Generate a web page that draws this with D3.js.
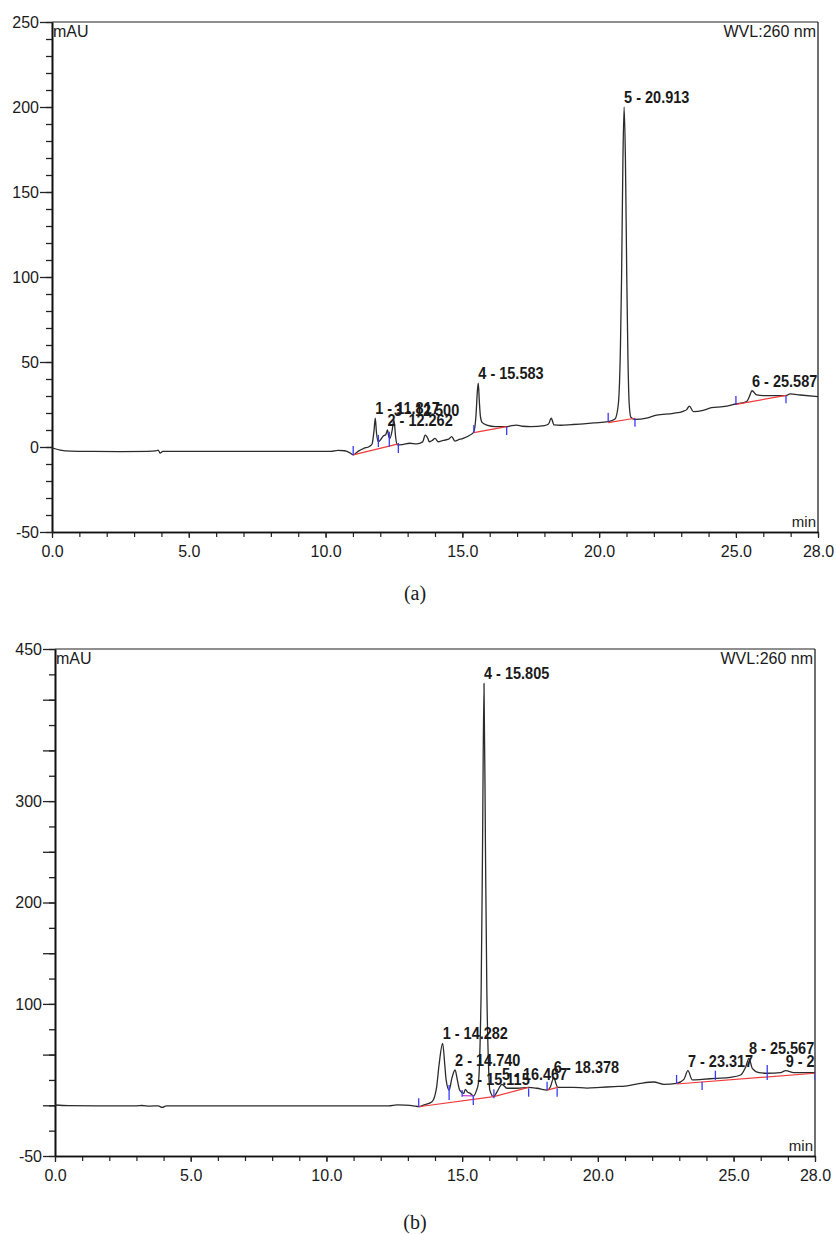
<!DOCTYPE html>
<html>
<head>
<meta charset="utf-8">
<script src="https://cdn.jsdelivr.net/npm/d3@7"></script>
<style>
  html, body { margin: 0; padding: 0; background: #fff; }
  svg { display: block; }
</style>
</head>
<body>
<svg id="fig" width="836" height="1234"></svg>
<script>
// ---------- Run (a): UV trace at 260 nm, retention time (min) vs absorbance (mAU) ----------
const traceA = [
  [0.0,-0.5],[0.3,-1.8],[0.7,-2.4],[1.5,-2.6],[2.5,-2.7],[3.5,-2.6],[3.8,-2.3],[3.88,-1.8],
  [3.95,-3.6],[4.05,-2.6],[5.0,-2.6],[7.0,-2.6],[9.0,-2.6],[10.2,-2.6],[10.45,-2.0],[10.7,-2.2],
  [10.9,-3.5],[11.01,-4.6],[11.2,-2.4],[11.4,-0.8],[11.6,0.3],[11.7,1.8],[11.77,9.5],
  [11.86,8.5],[11.93,3.1],[12.02,4.5],[12.11,6.5],[12.2,7.2],[12.31,6.0],[12.35,5.1],[12.43,9.5],
  [12.56,6.0],[12.62,1.2],[12.8,1.4],[13.08,2.2],[13.33,1.8],[13.55,3.0],[13.64,7.0],[13.74,5.0],
  [13.79,3.1],[13.9,3.8],[14.0,5.1],[14.12,3.1],[14.25,3.6],[14.36,4.1],[14.5,4.6],[14.61,6.1],
  [14.73,3.5],[14.85,4.2],[15.03,5.1],[15.28,7.0],[15.42,9.0],[15.5,19.0],[15.55,33.0],
  [15.62,27.0],[15.66,18.0],[15.72,14.5],[15.89,12.9],[16.22,12.0],[16.62,12.0],[16.8,12.6],
  [16.98,12.9],[17.2,12.2],[17.5,12.0],[18.0,12.6],[18.15,13.5],[18.25,17.0],[18.35,13.0],
  [18.6,12.8],[19.0,13.2],[19.3,13.5],[19.8,14.2],[20.33,14.9],[20.58,16.5],[20.7,25.0],
  [20.78,60.0],[20.82,100.0],[20.87,170.0],[20.96,170.0],[21.01,100.0],[21.05,55.0],[21.1,25.0],
  [21.16,17.5],[21.31,16.3],[21.73,17.0],[22.1,18.8],[22.71,19.8],[23.07,21.0],[23.2,22.0],
  [23.3,24.1],[23.44,20.8],[23.8,21.5],[24.11,23.1],[24.53,23.7],[25.0,25.3],[25.39,26.7],
  [25.5,30.0],[25.76,30.6],[26.0,30.2],[26.49,30.2],[26.83,30.2],[26.98,31.2],[27.35,30.6],
  [28.0,29.6]
];
// integrated peaks: number, retention time, apex height
const peakNoA   = [1, 2, 3, 4, 5, 6];
const peakTimeA = [11.817, 12.262, 12.500, 15.583, 20.913, 25.587];
const peakAbsA  = [16.9, 10.0, 16.0, 37.5, 200.0, 33.1];
// integration baselines (red)
const baselineA = [
  [[11.01,-4.6],[12.66,1.8]],
  [[15.42,8.5],[16.62,12.0]],
  [[20.33,14.3],[21.31,16.9]],
  [[25.0,25.1],[26.83,30.4]]
];
// peak delimiters (blue): time, low mAU, high mAU
const delimA = [
  [11.01,-4.7,0.6],[11.93,0.0,7.1],[12.33,0.2,9.0],[12.66,-3.5,2.4],[15.42,8.2,12.9],
  [16.62,7.1,11.9],[20.33,14.9,20.2],[21.31,11.9,16.9],[25.0,24.7,30.0],[26.83,25.7,30.0]
];
const yTicksA  = [-50, 0, 50, 100, 150, 200, 250];

// ---------- Run (b) ----------
const traceB = [
  [0.0,0.3],[0.5,-0.3],[1.5,-0.5],[3.0,-0.5],[3.2,-0.2],[3.5,-0.8],[3.8,-0.5],[3.95,-2.0],
  [4.1,-0.5],[5.0,-0.5],[8.0,-0.5],[10.0,-0.5],[12.3,-0.5],[12.6,0.5],[12.9,0.2],[13.2,-0.5],
  [13.4,-1.4],[13.6,0.5],[13.89,3.6],[14.0,10.0],[14.06,18.0],[14.15,40.0],[14.36,40.0],
  [14.41,25.0],[14.52,15.0],[14.62,26.6],[14.83,24.0],[14.91,15.0],[15.06,11.8],[15.2,13.0],
  [15.3,11.8],[15.42,9.2],[15.52,14.0],[15.6,22.0],[15.66,60.0],[15.7,113.0],[15.75,250.0],
  [15.86,250.0],[15.91,113.0],[15.96,50.0],[16.02,15.0],[16.16,8.5],[16.3,14.0],[16.65,16.8],
  [17.02,16.8],[17.45,17.7],[17.76,16.8],[18.13,15.0],[18.25,18.0],[18.45,22.0],[18.52,17.7],
  [19.1,17.7],[19.6,17.0],[20.1,17.7],[20.6,18.5],[21.0,19.0],[21.57,21.7],[22.06,23.0],
  [22.43,20.7],[22.9,21.7],[23.17,25.6],[23.48,25.0],[23.84,25.6],[24.33,26.6],[24.88,27.6],
  [25.26,29.9],[25.45,38.0],[25.69,36.5],[25.94,32.2],[26.24,31.6],[26.73,32.2],[27.22,32.2],
  [28.0,32.2]
];
const peakNoB   = [1, 2, 3, 4, 5, 6, 7, 8, 9];
const peakTimeB = [14.282, 14.740, 15.115, 15.805, 16.467, 18.378, 23.317, 25.567, 26.920];
const peakAbsB  = [61.0, 34.8, 15.8, 416.0, 20.7, 27.6, 34.1, 46.3, 34.1];
const baselineB = [
  [[13.4,-1.4],[16.16,8.5]],
  [[16.16,8.5],[17.45,17.7]],
  [[18.13,15.0],[18.52,17.7]],
  [[22.9,21.0],[28.0,31.6]]
];
const skimB = [[15.0,9.6],[15.41,9.2]];
const delimB = [
  [13.4,-1.4,6.9],[14.52,5.2,20.0],[15.0,8.5,15.1],[15.41,0.3,10.2],[16.17,6.9,15.8],
  [17.45,8.5,16.8],[18.13,15.1,23.3],[18.5,8.5,16.8],[22.9,21.0,29.9],[23.84,15.1,23.3],
  [24.33,25.0,34.1],[26.24,25.0,39.7],[28.0,25.0,32.2]
];
const yTicksB      = [-50, 0, 50, 100, 150, 200, 250, 300, 350, 400, 450];
const yTickLabelsB = [450, 300, 200, 100, -50];

// shared axis text
const xTicks   = [0, 5, 10, 15, 20, 25, 28];
const yUnit    = "mAU";
const xUnit    = "min";
const channel  = "WVL:260 nm";

const svg = d3.select("#fig");
const SANS = "'Liberation Sans', Arial, sans-serif";

function drawPanel(p) {
  const x = d3.scaleLinear().domain([0, 28]).range([p.x0, p.x1]);
  const y = d3.scaleLinear().domain(p.yDomain).range([p.y1, p.y0]);
  const g = svg.append("g");
  const clipId = "clip-" + p.id;
  svg.append("clipPath").attr("id", clipId)
    .append("rect").attr("x", p.x0).attr("y", p.y0 - 30)
    .attr("width", p.x1 - p.x0).attr("height", p.y1 - p.y0 + 30);

  // frame: top (grey) and right edges
  g.append("line").attr("x1", p.x0).attr("x2", p.x1).attr("y1", p.y0).attr("y2", p.y0)
    .attr("stroke", "#6a6a6a").attr("stroke-width", 1.5);
  g.append("line").attr("x1", p.x1).attr("x2", p.x1).attr("y1", p.y0).attr("y2", p.y1)
    .attr("stroke", "#111").attr("stroke-width", 1.2);

  // y axis: minor and major ticks
  const minorY = d3.range(p.yDomain[0], p.yDomain[1] + 0.001, p.yMinor);
  const yMinorAxis = d3.axisLeft(y).tickValues(minorY).tickSize(6).tickSizeOuter(0).tickFormat("");
  const yMajorAxis = d3.axisLeft(y).tickValues(p.yTicks).tickSize(12).tickSizeOuter(0).tickPadding(1)
    .tickFormat(v => p.yLabels.includes(v) ? String(v) : "");
  [yMinorAxis, yMajorAxis].forEach(ax => {
    const a = g.append("g").attr("transform", `translate(${p.x0},0)`).call(ax);
    a.select(".domain").attr("stroke", "#111").attr("stroke-width", 1.6);
    a.selectAll(".tick line").attr("stroke", "#222").attr("stroke-width", 1.3);
    a.selectAll("text").attr("font-family", SANS).attr("font-size", 16).attr("fill", "#1a1a1a");
  });

  // x axis: minor and major ticks
  const xMinorAxis = d3.axisBottom(x).tickValues(d3.range(0, 29, 1)).tickSize(5).tickSizeOuter(0).tickFormat("");
  const xMajorAxis = d3.axisBottom(x).tickValues(xTicks).tickSize(6).tickSizeOuter(0).tickPadding(8)
    .tickFormat(d3.format(".1f"));
  [xMinorAxis, xMajorAxis].forEach(ax => {
    const a = g.append("g").attr("transform", `translate(0,${p.y1})`).call(ax);
    a.select(".domain").attr("stroke", "#111").attr("stroke-width", 1.6);
    a.selectAll(".tick line").attr("stroke", "#222").attr("stroke-width", 1.2);
    a.selectAll("text").attr("font-family", SANS).attr("font-size", 16).attr("fill", "#1a1a1a");
  });

  // unit and channel captions inside the frame
  g.append("text").attr("x", p.x0 + 1).attr("y", p.y0 + 15).text(yUnit)
    .attr("font-family", SANS).attr("font-size", 16).attr("fill", "#1a1a1a");
  g.append("text").attr("x", p.x1 - 2).attr("y", p.y0 + 15).attr("text-anchor", "end").text(channel)
    .attr("font-family", SANS).attr("font-size", 16).attr("fill", "#1a1a1a");
  g.append("text").attr("x", p.x1 - 2).attr("y", p.y1 - 5).attr("text-anchor", "end").text(xUnit)
    .attr("font-family", SANS).attr("font-size", 15).attr("fill", "#1a1a1a");

  const plot = g.append("g").attr("clip-path", `url(#${clipId})`);

  // trace, with the integrated apices merged in
  const pts = p.trace.concat(p.peakTime.map((t, i) => [t, p.peakAbs[i]]))
    .sort((a, b) => a[0] - b[0]);
  const line = d3.line().x(d => x(d[0])).y(d => y(d[1])).curve(d3.curveMonotoneX);
  plot.append("path").attr("d", line(pts)).attr("fill", "none")
    .attr("stroke", "#2b2b2b").attr("stroke-width", 1.3).attr("stroke-linejoin", "round");

  // integration baselines
  const seg = d3.line().x(d => x(d[0])).y(d => y(d[1]));
  p.baselines.forEach(b => plot.append("path").attr("d", seg(b))
    .attr("stroke", "#f03a3a").attr("stroke-width", 1.2).attr("fill", "none"));
  if (p.skim) plot.append("path").attr("d", seg(p.skim))
    .attr("stroke", "#d040d8").attr("stroke-width", 1.2).attr("fill", "none");

  // peak delimiters
  plot.selectAll(".delim").data(p.delims).join("line")
    .attr("x1", d => x(d[0])).attr("x2", d => x(d[0]))
    .attr("y1", d => y(d[1])).attr("y2", d => y(d[2]))
    .attr("stroke", "#3a3aff").attr("stroke-width", 1.3);

  // peak labels: "n - rt", anchored just above each apex
  plot.selectAll(".plab").data(p.peakTime).join("text")
    .attr("transform", (t, i) => `translate(${x(t)},${y(p.peakAbs[i]) - 4}) scale(1,1.1)`)
    .text((t, i) => `${p.peakNo[i]} - ${t.toFixed(3)}`)
    .attr("font-family", SANS).attr("font-weight", "bold").attr("font-size", 14.5)
    .attr("fill", "#1a1a1a");

  // panel caption
  svg.append("text").attr("x", 415).attr("y", p.captionY).attr("text-anchor", "middle")
    .text(p.caption).attr("font-family", "'Liberation Serif', 'DejaVu Serif', serif")
    .attr("font-size", 20).attr("fill", "#1a1a1a");
}

drawPanel({
  id: "a", x0: 52, x1: 818, y0: 22, y1: 532, yDomain: [-50, 250], yMinor: 10,
  yTicks: yTicksA, yLabels: yTicksA,
  trace: traceA, peakNo: peakNoA, peakTime: peakTimeA, peakAbs: peakAbsA,
  baselines: baselineA, delims: delimA, caption: "(a)", captionY: 600
});
drawPanel({
  id: "b", x0: 55, x1: 815, y0: 649, y1: 1156, yDomain: [-50, 450], yMinor: 25,
  yTicks: yTicksB, yLabels: yTickLabelsB,
  trace: traceB, peakNo: peakNoB, peakTime: peakTimeB, peakAbs: peakAbsB,
  baselines: baselineB, skim: skimB, delims: delimB, caption: "(b)", captionY: 1229
});
</script>
</body>
</html>
